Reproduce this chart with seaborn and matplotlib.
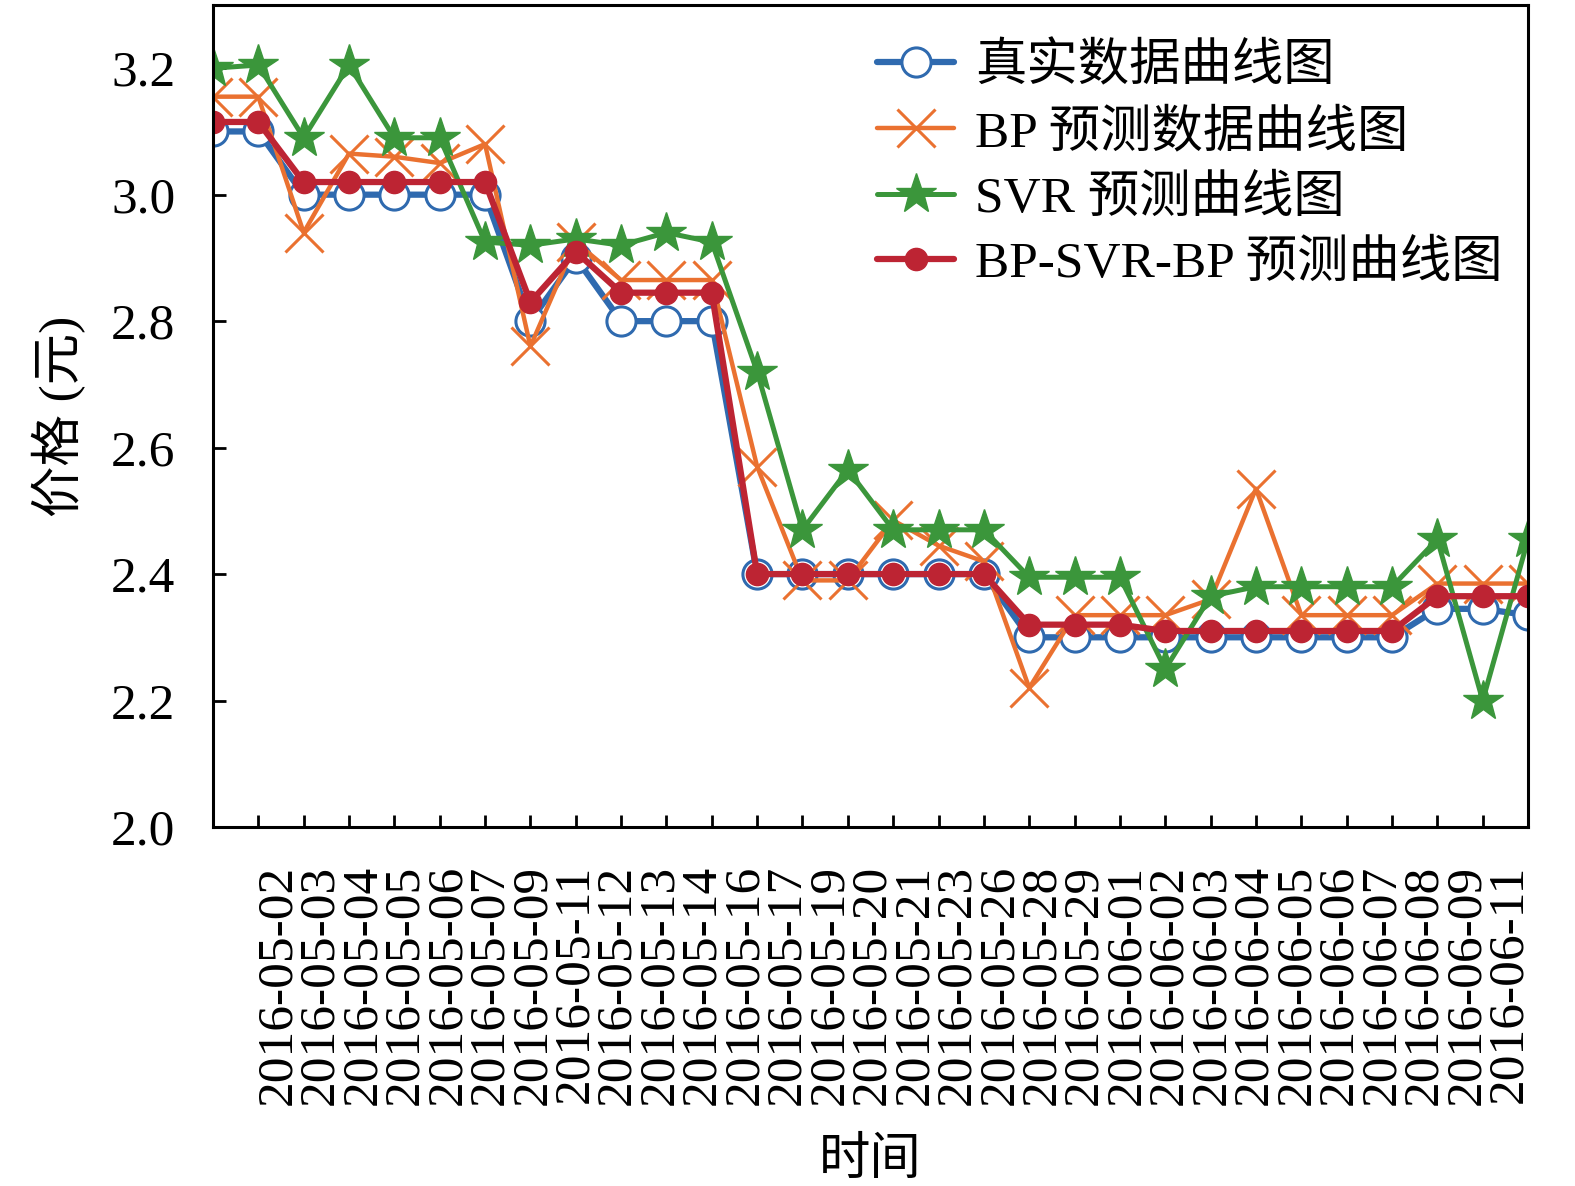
import numpy as np
import matplotlib
matplotlib.use("Agg")
import matplotlib.pyplot as plt
import seaborn as sns

# data
dates = ["2016-05-02", "2016-05-03", "2016-05-04", "2016-05-05", "2016-05-06",
         "2016-05-07", "2016-05-09", "2016-05-11", "2016-05-12", "2016-05-13",
         "2016-05-14", "2016-05-16", "2016-05-17", "2016-05-19", "2016-05-20",
         "2016-05-21", "2016-05-23", "2016-05-26", "2016-05-28", "2016-05-29",
         "2016-06-01", "2016-06-02", "2016-06-03", "2016-06-04", "2016-06-05",
         "2016-06-06", "2016-06-07", "2016-06-08", "2016-06-09", "2016-06-11"]

true_vals = [3.10, 3.10, 3.00, 3.00, 3.00, 3.00, 3.00, 2.80, 2.90, 2.80,
             2.80, 2.80, 2.40, 2.40, 2.40, 2.40, 2.40, 2.40, 2.30, 2.30,
             2.30, 2.30, 2.30, 2.30, 2.30, 2.30, 2.30, 2.345, 2.345, 2.335]

bp_vals = [3.155, 3.155, 2.94, 3.065, 3.06, 3.05, 3.08, 2.76, 2.925, 2.865,
           2.865, 2.865, 2.57, 2.39, 2.39, 2.485, 2.445, 2.42, 2.22, 2.335,
           2.335, 2.335, 2.36, 2.535, 2.335, 2.335, 2.335, 2.385, 2.385, 2.385]

svr_vals = [3.20, 3.205, 3.09, 3.205, 3.09, 3.09, 2.925, 2.92, 2.93, 2.92,
            2.94, 2.925, 2.72, 2.47, 2.565, 2.47, 2.47, 2.47, 2.395, 2.395,
            2.395, 2.25, 2.365, 2.38, 2.38, 2.38, 2.38, 2.455, 2.20, 2.455]

bsb_vals = [3.115, 3.115, 3.02, 3.02, 3.02, 3.02, 3.02, 2.83, 2.91, 2.845,
            2.845, 2.845, 2.40, 2.40, 2.40, 2.40, 2.40, 2.40, 2.32, 2.32,
            2.32, 2.31, 2.31, 2.31, 2.31, 2.31, 2.31, 2.365, 2.365, 2.365]

series_labels = ["真实数据曲线图", "BP 预测数据曲线图", "SVR 预测曲线图", "BP-SVR-BP 预测曲线图"]

sns.set_style("ticks")
plt.rcParams['font.family'] = ['Liberation Serif', 'Noto Sans CJK SC']
plt.rcParams['font.size'] = 37
plt.rcParams['axes.edgecolor'] = 'black'
plt.rcParams['xtick.color'] = 'black'
plt.rcParams['ytick.color'] = 'black'
plt.rcParams['text.color'] = 'black'
plt.rcParams['axes.labelcolor'] = 'black'

fig = plt.figure(figsize=(15.75, 11.86), dpi=100)
ax = fig.add_axes([0.1352, 0.3027, 0.835, 0.6931])

idx = np.arange(len(dates))

styles = [
    dict(color="#2f6aaf", linewidth=4.5, marker="o", markersize=21,
         markerfacecolor="white", markeredgecolor="#2f6aaf", markeredgewidth=2.2),
    dict(color="#ea7130", linewidth=3.2, marker="x", markersize=28,
         markerfacecolor="#ea7130", markeredgecolor="#ea7130", markeredgewidth=2.2),
    dict(color="#3b963b", linewidth=3.6, marker="*", markersize=30,
         markerfacecolor="#3b963b", markeredgecolor="#3b963b", markeredgewidth=1.0),
    dict(color="#bd2433", linewidth=4.5, marker="o", markersize=16,
         markerfacecolor="#bd2433", markeredgecolor="#bd2433", markeredgewidth=1.0),
]

for vals, lab, st in zip([true_vals, bp_vals, svr_vals, bsb_vals], series_labels, styles):
    sns.lineplot(x=idx, y=vals, ax=ax, label=lab, sort=False, **st)

ax.set_xlim(0, len(dates) - 1)
ax.set_ylim(2.0, 3.3)
ax.set_yticks(np.arange(2.0, 3.21, 0.2))
ax.yaxis.set_major_formatter('{x:.1f}')

# tick marks at the points, labels spread a little differently as in the original
ax.set_xticks(idx, minor=True)
ax.set_xticks(np.linspace(1.43, 28.58, len(dates)))
ax.set_xticklabels(dates, rotation=90)
ax.tick_params(axis='x', which='major', length=0, pad=27)
ax.tick_params(axis='x', which='minor', direction='in', length=9, width=2)
ax.tick_params(axis='y', direction='in', length=9, width=2, pad=27)

for sp in ax.spines.values():
    sp.set_linewidth(2.2)
    sp.set_color('black')

ax.set_xlabel("时间", labelpad=24)
ax.set_ylabel("价格 (元)", labelpad=18)

ax.legend(loc='upper right', bbox_to_anchor=(1.0, 0.985), frameon=False,
          fontsize=37, handlelength=1.5, handletextpad=0.4, labelspacing=0.35,
          borderaxespad=0.1)

fig.savefig("out.png", dpi=100)
